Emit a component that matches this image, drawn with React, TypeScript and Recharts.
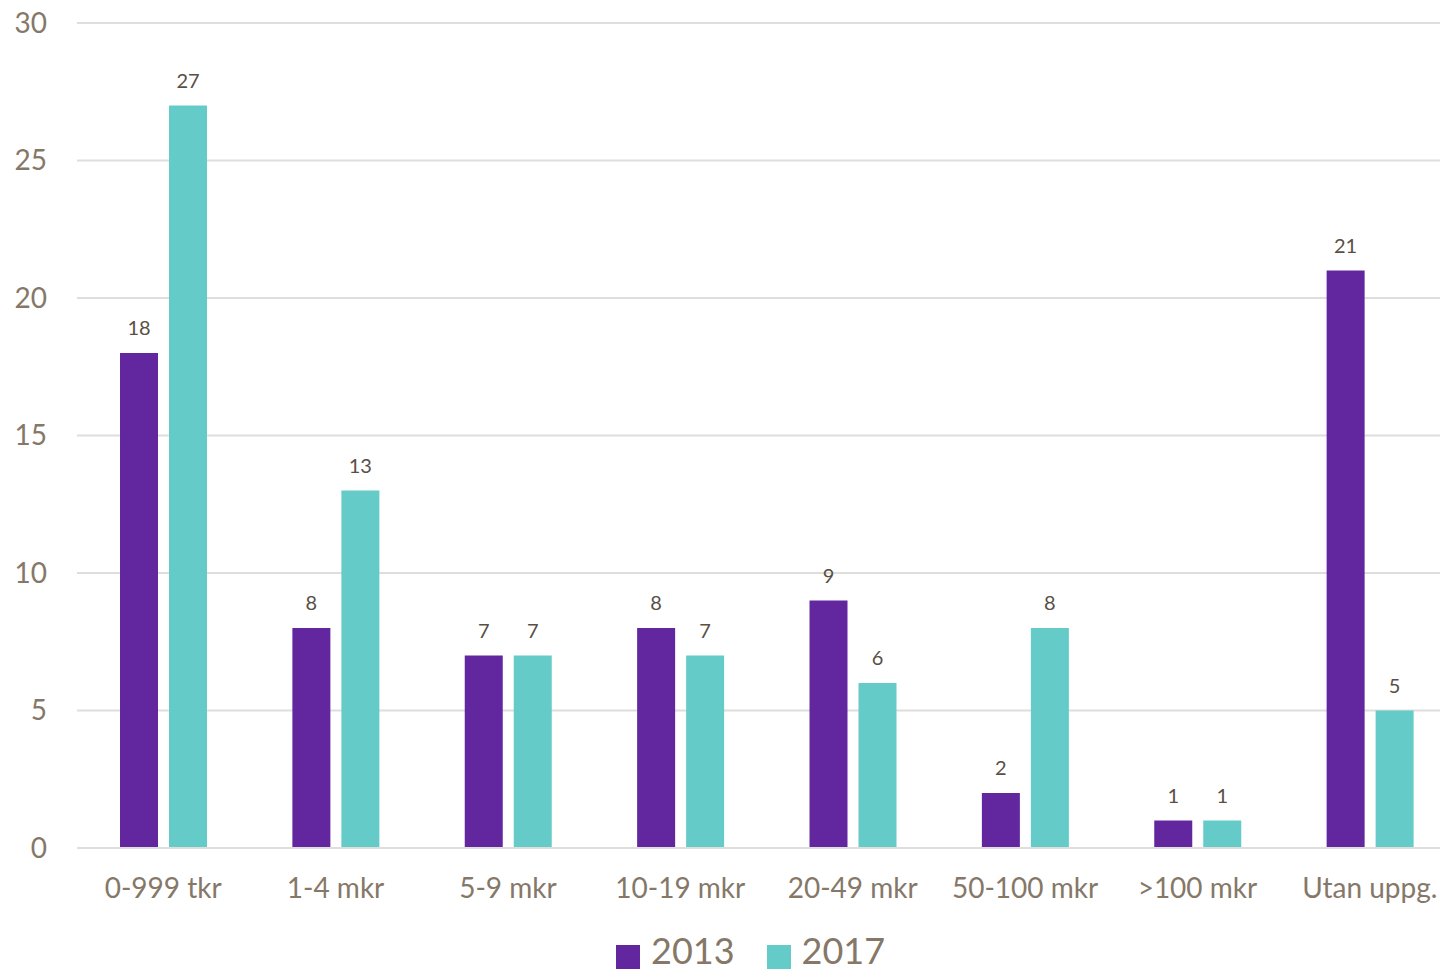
import { BarChart, Bar, XAxis, YAxis, CartesianGrid, Legend, LabelList } from "recharts";

const categories = ["0-999 tkr", "1-4 mkr", "5-9 mkr", "10-19 mkr", "20-49 mkr", "50-100 mkr", ">100 mkr", "Utan uppg."];
const values2013 = [18, 8, 7, 8, 9, 2, 1, 21];
const values2017 = [27, 13, 7, 7, 6, 8, 1, 5];
const yTicks = [0, 5, 10, 15, 20, 25, 30];

const data = categories.map((name, i) => ({ name, y2013: values2013[i], y2017: values2017[i] }));

const PURPLE = "#62269e";
const TEAL = "#64cbc8";
const TICK = "#857868";
const LABEL = "#594f45";
const FONT = "Lato, 'Open Sans', sans-serif";

const swatch = (color: string) => (
  <span style={{ width: 24, height: 24, background: color, display: "inline-block", marginRight: 11, marginTop: 14 }} />
);

const LegendContent = () => (
  <div
    style={{
      display: "flex",
      alignItems: "center",
      height: 64,
      boxSizing: "border-box",
      paddingTop: 20,
      fontFamily: FONT,
      fontSize: 36,
      lineHeight: "28px",
      color: TICK,
    }}
  >
    {swatch(PURPLE)}
    <span style={{ marginRight: 32 }}>2013</span>
    {swatch(TEAL)}
    <span>2017</span>
  </div>
);

export default function App() {
  return (
    <div style={{ position: "absolute", top: 0, left: 0, width: 1440, height: 972, overflow: "hidden", background: "#fff" }}>
      <BarChart
        width={1456}
        height={972}
        data={data}
        margin={{ top: 23, right: 0, bottom: 0, left: 0 }}
        barSize={38}
        barGap={11}
      >
        <CartesianGrid vertical={false} stroke="#e0dedb" strokeWidth={2} />
        <XAxis
          dataKey="name"
          axisLine={{ stroke: "#e0dedb", strokeWidth: 2 }}
          tickLine={false}
          tickSize={0}
          tickMargin={30}
          height={60}
          interval={0}
          tick={{ fontSize: 28, fill: TICK, fontFamily: FONT }}
        />
        <YAxis
          domain={[0, 30]}
          ticks={yTicks}
          axisLine={false}
          tickLine={false}
          tickSize={0}
          tickMargin={30}
          width={77}
          tick={{ fontSize: 28, fill: TICK, fontFamily: FONT }}
        />
        <Legend
          verticalAlign="bottom"
          content={<LegendContent />}
          wrapperStyle={{ left: 616, width: "auto", bottom: 0 }}
        />
        <Bar dataKey="y2013" name="2013" fill={PURPLE} isAnimationActive={false}>
          <LabelList dataKey="y2013" position="top" offset={18} style={{ fontSize: 20, fill: LABEL, fontFamily: FONT }} />
        </Bar>
        <Bar dataKey="y2017" name="2017" fill={TEAL} isAnimationActive={false}>
          <LabelList dataKey="y2017" position="top" offset={18} style={{ fontSize: 20, fill: LABEL, fontFamily: FONT }} />
        </Bar>
      </BarChart>
    </div>
  );
}
